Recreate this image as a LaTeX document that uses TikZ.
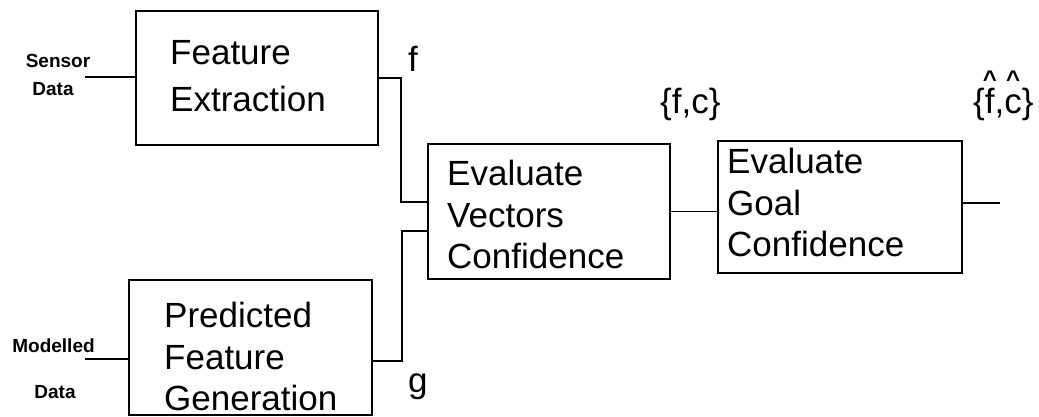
\documentclass[tikz,border=0pt]{standalone}
\usepackage{fontspec}
\setmainfont{Liberation Sans}
\newcommand\hatted[1]{\ooalign{#1\cr\hidewidth\raisebox{26.5pt}{\bfseries\fontsize{24}{24}\selectfont\textasciicircum}\hidewidth\cr}}
\tikzset{
  box/.style={draw, line width=1.7pt, inner sep=0pt},
  boxtext/.style={anchor=north west, inner sep=0pt, align=left},
  wire/.style={line width=1.7pt},
  small/.style={inner sep=0pt, anchor=base, font=\bfseries\fontsize{19}{19}\selectfont},
  sym/.style={inner sep=0pt, anchor=base west, font=\fontsize{35}{35}\selectfont}
}
\begin{document}
\begin{tikzpicture}[x=1pt,y=-1pt]
\useasboundingbox (0,0) rectangle (1039,417);
% boxes
\node[box, minimum width=242pt, minimum height=134pt] (fe) at (257,78) {};
\node[box, minimum width=243pt, minimum height=135pt] (pfg) at (250.5,347.5) {};
\node[box, minimum width=242pt, minimum height=135pt] (evc) at (549,211.5) {};
\node[box, minimum width=244pt, minimum height=132pt] (egc) at (840,207) {};
% box texts
\node[boxtext, font=\fontsize{35}{47}\selectfont] (fet) at (170,40) {Feature\\Extraction};
\node[boxtext, font=\fontsize{35}{41.5}\selectfont] (pfgt) at (164,302) {Predicted\\Feature\\Generation};
\node[boxtext, font=\fontsize{35}{41.5}\selectfont] (evct) at (447,160) {Evaluate\\Vectors\\Confidence};
\node[boxtext, font=\fontsize{35}{41.5}\selectfont] (egct) at (727,148) {Evaluate\\Goal\\Confidence};
% input labels
\node[small] (sens) at (58,68) {Sensor};
\node[small] (sdat) at (53,96) {Data};
\node[small] (mod) at (53.5,352) {Modelled};
\node[small] (mdat) at (55,398) {Data};
% signal labels
\node[sym] (fl) at (408,72) {f};
\node[sym] (gl) at (408,392) {g};
\node[sym] (fc) at (660,114) {\{f,c\}};
\node[sym] (fch) at (973,114) {\{\hatted{f},\hatted{c}\}};
% connector ends
\coordinate (sin) at (85,77);
\coordinate (min) at (85,359);
\coordinate (out) at (1000,203);
\coordinate (fx) at (401,202);
\coordinate (gx) at (402,231);
\coordinate (gy) at (402,361);
% connectors
\draw[wire] (sin) -- (sin -| fe.west);
\draw[wire] (min) -- (min -| pfg.west);
\draw[wire] (fe.east) -| (fx) -- (fx -| evc.west);
\draw[wire] (gy -| pfg.east) -- (gy) -- (gx) -- (gx -| evc.west);
\draw[wire] (evc.east) -- (evc.east -| egc.west);
\draw[wire] (out -| egc.east) -- (out);
\end{tikzpicture}
\end{document}
